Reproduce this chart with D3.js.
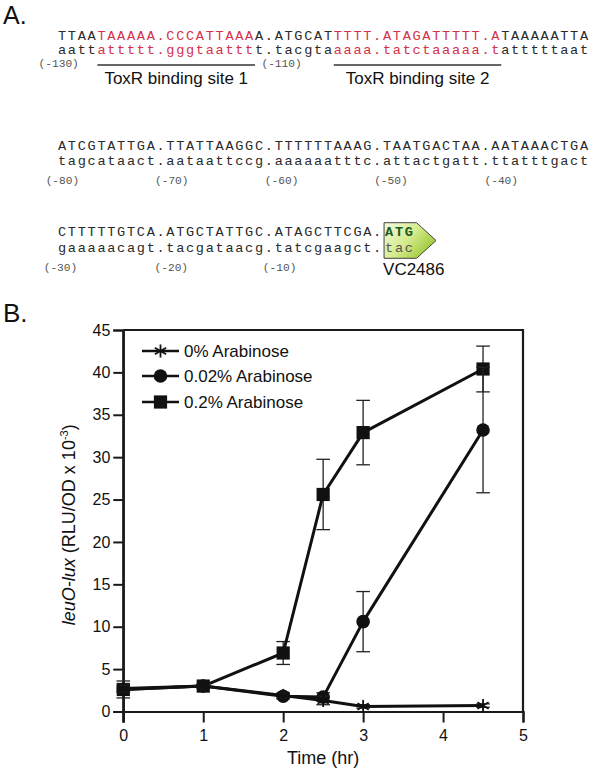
<!DOCTYPE html>
<html><head><meta charset="utf-8">
<script src="https://cdn.jsdelivr.net/npm/d3@7"></script>
<style>body{margin:0;background:#fff}svg{display:block}</style>
</head><body>
<script>
// ---------- DATA ----------
const times = [0, 1, 2, 2.5, 3, 4.5];
const ara0 = [2.7, 3.0, 1.9, 1.3, 0.6, 0.7];
const ara0Err = [0.4, 0.2, 0.3, 0.5, 0.2, 0.2];
const ara002 = [2.6, 3.0, 1.8, 1.7, 10.6, 33.2];
const ara002Err = [0.3, 0.2, 0.3, 0.5, 3.55, 7.4];
const ara02 = [2.6, 3.0, 6.9, 25.6, 32.9, 40.4];
const ara02Err = [1.0, 0.2, 1.35, 4.15, 3.8, 2.7];
const seriesNames = ["0% Arabinose", "0.02% Arabinose", "0.2% Arabinose"];
const xTicks = [0, 1, 2, 3, 4, 5];
const yTicks = [0, 5, 10, 15, 20, 25, 30, 35, 40, 45];

const row1Upper = [["TTAA","k"],["TAAAAA.CCCATTAAA","r"],["A.ATGCAT","k"],["TTTT.ATAGATTTTT.A","r"],["TAAAAATTA","k"]];
const row1Lower = [["aatt","k"],["attttt.gggtaattt","r"],["t.tacgta","k"],["aaaa.tatctaaaaa.t","r"],["atttttaat","k"]];
const row1Labels = [["(-130)", 0.07], ["(-110)", 22.7]];
const siteLabels = ["ToxR binding site 1", "ToxR binding site 2"];
const row2Upper = "ATCGTATTGA.TTATTAAGGC.TTTTTTAAAG.TAATGACTAA.AATAAACTGA";
const row2Lower = "tagcataact.aataattccg.aaaaaatttc.attactgatt.ttatttgact";
const row2Labels = [["(-80)", 0.45], ["(-70)", 11.55], ["(-60)", 22.7], ["(-50)", 33.8], ["(-40)", 45]];
const row3Upper = "CTTTTTGTCA.ATGCTATTGC.ATAGCTTCGA.";
const row3Lower = "gaaaaacagt.tacgataacg.tatcgaagct.";
const row3Labels = [["(-30)", 0.25], ["(-20)", 11.5], ["(-10)", 22.5]];
const codon = ["ATG", "tac"];
const geneName = "VC2486";

// ---------- SETUP ----------
const W = 603, H = 775;
const svg = d3.select("body").append("svg").attr("width", W).attr("height", H);
const sans = "Liberation Sans, Arial, Helvetica, sans-serif";
const mono = "Liberation Mono, Courier New, monospace";
const RED = "#d3324a", INK = "#2a2a2a";

// ---------- PANEL A ----------
svg.append("text").attr("x", 3).attr("y", 24).attr("font-family", sans).attr("font-size", 25).attr("fill", "#111").text("A.");

const seqX0 = 58, cw = 9.85, seqFs = 13.6, seqLS = cw - seqFs * 0.6;
function seqLine(segs, y) {
  const t = svg.append("text").attr("x", seqX0).attr("y", y).attr("font-family", mono)
    .attr("font-size", seqFs).attr("letter-spacing", seqLS).attr("xml:space", "preserve");
  t.selectAll("tspan").data(segs).join("tspan")
    .attr("fill", d => d[1] === "r" ? RED : INK).text(d => d[0]);
}
function numLabels(labels, y) {
  svg.append("g").selectAll("text").data(labels).join("text")
    .attr("x", d => seqX0 + d[1] * cw)
    .attr("y", y).attr("text-anchor", "middle").attr("font-family", mono)
    .attr("font-size", 11.2).attr("fill", "#555").text(d => d[0]);
}
seqLine(row1Upper, 39.5);
seqLine(row1Lower, 54);
// underlines for red sites
let idx = 0; const redRanges = [];
row1Upper.forEach(s => { if (s[1] === "r") redRanges.push([idx, idx + s[0].length]); idx += s[0].length; });
svg.append("g").selectAll("line").data(redRanges).join("line")
  .attr("x1", d => seqX0 + d[0] * cw).attr("x2", d => seqX0 + d[1] * cw)
  .attr("y1", 65).attr("y2", 65).attr("stroke", "#333").attr("stroke-width", 1.3);
svg.append("g").selectAll("text").data(redRanges).join("text")
  .attr("x", d => seqX0 + (d[0] + d[1]) / 2 * cw).attr("y", 84)
  .attr("text-anchor", "middle").attr("font-family", sans).attr("font-size", 17).attr("fill", "#111")
  .text((d, i) => siteLabels[i]);
numLabels(row1Labels, 67);

seqLine([[row2Upper, "k"]], 149.5);
seqLine([[row2Lower, "k"]], 164.5);
numLabels(row2Labels, 184);

seqLine([[row3Upper, "k"]], 236);
seqLine([[row3Lower, "k"]], 252);
numLabels(row3Labels, 271);

// start codon arrow box
const defs = svg.append("defs");
const grad = defs.append("linearGradient").attr("id", "gg").attr("x1", "0").attr("y1", "0").attr("x2", "1").attr("y2", "0.6");
grad.append("stop").attr("offset", "0").attr("stop-color", "#f4fae0");
grad.append("stop").attr("offset", "0.55").attr("stop-color", "#d4eb8c");
grad.append("stop").attr("offset", "1").attr("stop-color", "#9cc737");
const bx0 = seqX0 + row3Upper.length * cw + 1, bx1 = bx0 + 32.5, tip = bx0 + 52, by0 = 222.7, by1 = 258.3;
svg.append("path")
  .attr("d", `M${bx0},${by0}L${bx1},${by0}L${tip},${(by0 + by1) / 2}L${bx1},${by1}L${bx0},${by1}Z`)
  .attr("fill", "url(#gg)").attr("stroke", "#444").attr("stroke-width", 1);
svg.append("text").attr("x", bx0 + 1).attr("y", 236).attr("font-family", mono).attr("font-size", seqFs)
  .attr("letter-spacing", seqLS).attr("font-weight", "bold").attr("fill", "#1c5a23").text(codon[0]);
svg.append("text").attr("x", bx0 + 1).attr("y", 252).attr("font-family", mono).attr("font-size", seqFs)
  .attr("letter-spacing", seqLS).attr("fill", "#555").text(codon[1]);
svg.append("text").attr("x", bx0 - 1).attr("y", 275).attr("font-family", sans).attr("font-size", 17)
  .attr("fill", "#111").text(geneName);

// ---------- PANEL B ----------
svg.append("text").attr("x", 3).attr("y", 322).attr("font-family", sans).attr("font-size", 26).attr("fill", "#111").text("B.");

const x = d3.scaleLinear().domain([0, 5]).range([123.3, 523]);
const y = d3.scaleLinear().domain([0, 45]).range([711.5, 330]);
const plot = svg.append("g");

const xAxis = plot.append("g").attr("transform", `translate(0,${y(0)})`)
  .call(d3.axisBottom(x).tickValues(xTicks).tickSize(11).tickPadding(7).tickFormat(d3.format("d")));
const yAxis = plot.append("g").attr("transform", `translate(${x(0)},0)`)
  .call(d3.axisLeft(y).tickValues(yTicks).tickSize(10).tickPadding(3).tickFormat(d3.format("d")));
[xAxis, yAxis].forEach(a => {
  a.select(".domain").attr("stroke", "#1a1a1a").attr("stroke-width", 2.2);
  a.selectAll(".tick line").attr("stroke", "#1a1a1a").attr("stroke-width", 2);
  a.selectAll(".tick text").attr("font-family", sans).attr("font-size", 16).attr("fill", "#111");
});
plot.append("line").attr("x1", x(0)).attr("x2", x(0)).attr("y1", y(45)).attr("y2", y(0) + 11).attr("stroke", "#1a1a1a").attr("stroke-width", 2.2);
plot.append("path").attr("d", `M${x(0)},${y(45)}H${x(5)}V${y(0)}`).attr("fill", "none").attr("stroke", "#1a1a1a").attr("stroke-width", 2.2);

svg.append("text").attr("x", x(2.5)).attr("y", 764).attr("text-anchor", "middle")
  .attr("font-family", sans).attr("font-size", 18).attr("fill", "#111").text("Time (hr)");

const yl = svg.append("text").attr("transform", `translate(75,${y(22.5) + 4}) rotate(-90)`)
  .attr("text-anchor", "middle").attr("font-family", sans).attr("font-size", 18).attr("fill", "#111");
yl.append("tspan").attr("font-style", "italic").text("leuO-lux");
yl.append("tspan").text(" (RLU/OD x 10");
yl.append("tspan").attr("font-size", 11).attr("dy", -7).text("-3");
yl.append("tspan").attr("dy", 7).text(")");

// series
const series = [
  { name: seriesNames[0], vals: ara0, err: ara0Err, shape: "star" },
  { name: seriesNames[1], vals: ara002, err: ara002Err, shape: "circle" },
  { name: seriesNames[2], vals: ara02, err: ara02Err, shape: "square" }
];
const line = d3.line().x(d => x(d.t)).y(d => y(d.v));

function drawMarker(g, shape, cx, cy) {
  if (shape === "circle") g.append("circle").attr("cx", cx).attr("cy", cy).attr("r", 6.8).attr("fill", "#111");
  else if (shape === "square") g.append("rect").attr("x", cx - 6.6).attr("y", cy - 6.6).attr("width", 13.2).attr("height", 13.2).attr("fill", "#111");
  else {
    const r = 6.5;
    [90, 30, 150].forEach(a => {
      const dx = r * Math.cos(a * Math.PI / 180), dy = r * Math.sin(a * Math.PI / 180);
      g.append("line").attr("x1", cx - dx).attr("y1", cy - dy).attr("x2", cx + dx).attr("y2", cy + dy)
        .attr("stroke", "#111").attr("stroke-width", 1.8);
    });
  }
}

const drawOrder = [2, 1, 0];
drawOrder.forEach(i => {
  const s = series[i];
  const pts = times.map((t, j) => ({ t, v: s.vals[j], e: s.err[j] }));
  const g = plot.append("g");
  pts.forEach(p => {
    if (!p.e) return;
    const cx = x(p.t), yt = y(p.v + p.e), yb = y(p.v - p.e);
    g.append("line").attr("x1", cx).attr("x2", cx).attr("y1", yt).attr("y2", yb).attr("stroke", "#222").attr("stroke-width", 1.3);
    [yt, yb].forEach(yy => g.append("line").attr("x1", cx - 6.8).attr("x2", cx + 6.8).attr("y1", yy).attr("y2", yy).attr("stroke", "#222").attr("stroke-width", 1.3));
  });
  g.append("path").datum(pts).attr("d", line).attr("fill", "none").attr("stroke", "#111").attr("stroke-width", 3).attr("stroke-linejoin", "round");
  pts.forEach(p => drawMarker(g, s.shape, x(p.t), y(p.v)));
});

// legend
const legRows = [351, 376, 402];
series.forEach((s, i) => {
  const g = plot.append("g");
  g.append("line").attr("x1", 142).attr("x2", 179).attr("y1", legRows[i]).attr("y2", legRows[i]).attr("stroke", "#111").attr("stroke-width", 2.6);
  drawMarker(g, s.shape, 160.5, legRows[i]);
  g.append("text").attr("x", 184).attr("y", legRows[i] + 6).attr("font-family", sans).attr("font-size", 17).attr("fill", "#111").text(s.name);
});
</script>
</body></html>
